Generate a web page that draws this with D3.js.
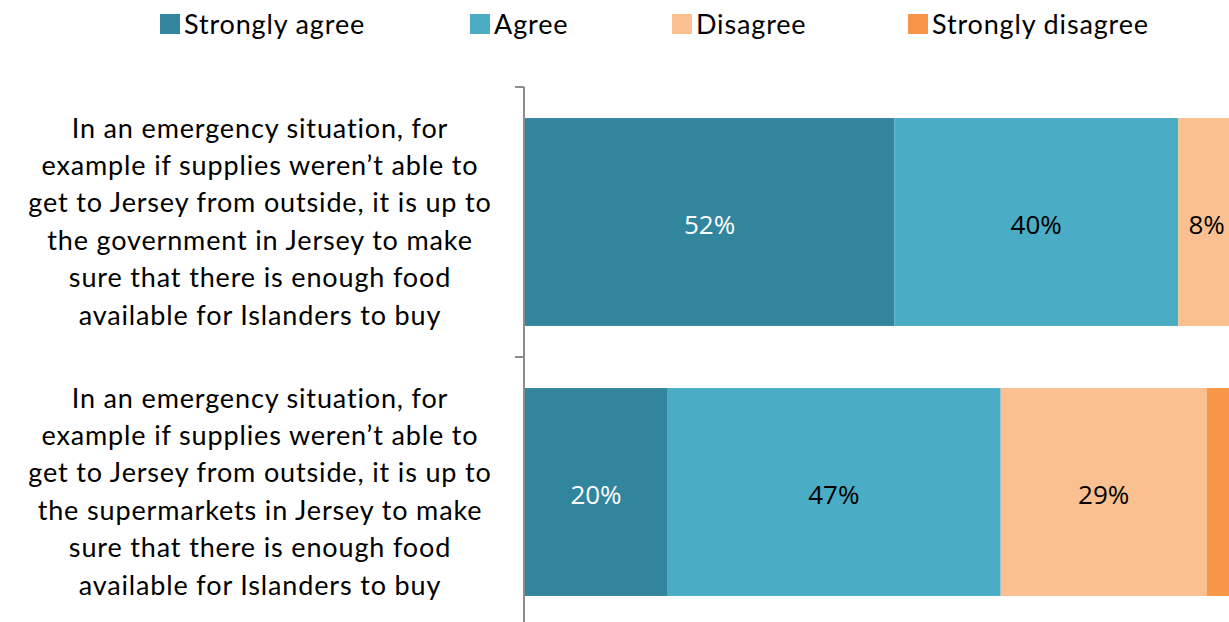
<!DOCTYPE html>
<html>
<head>
<meta charset="utf-8">
<script src="https://cdn.jsdelivr.net/npm/d3@7"></script>
<style>
  html, body { margin: 0; padding: 0; background: #fff; overflow: hidden; }
  svg { display: block; }
</style>
</head>
<body>
<svg id="chart" width="1229" height="622"></svg>
<script>
// Survey statements, each split into the lines shown beside its bar
const categories = [
  ["In an emergency situation, for",
   "example if supplies weren\u2019t able to",
   "get to Jersey from outside, it is up to",
   "the government in Jersey to make",
   "sure that there is enough food",
   "available for Islanders to buy"],
  ["In an emergency situation, for",
   "example if supplies weren\u2019t able to",
   "get to Jersey from outside, it is up to",
   "the supermarkets in Jersey to make",
   "sure that there is enough food",
   "available for Islanders to buy"]
];
const seriesNames = ["Strongly agree", "Agree", "Disagree", "Strongly disagree"];
const stronglyAgree    = [52, 20];
const agree            = [40, 47];
const disagree         = [8, 29];
const stronglyDisagree = [0, 4];

const colors = ["#31859C", "#4BACC6", "#FAC090", "#F79646"];
const labelColors = ["#ffffff", "#000000", "#000000", "#000000"];

const svg = d3.select("#chart");
const labelFont = "Lato, 'Open Sans', sans-serif";
const valueFont = "'Open Sans', sans-serif";

const rows = categories.map((lines, i) => ({
  key: "c" + i,
  lines,
  "Strongly agree": stronglyAgree[i],
  "Agree": agree[i],
  "Disagree": disagree[i],
  "Strongly disagree": stronglyDisagree[i]
}));

const x = d3.scaleLinear().domain([0, 100]).range([525, 1235]);
const y = d3.scaleBand()
  .domain(rows.map(d => d.key))
  .range([87, 627])
  .paddingInner(0.23)
  .paddingOuter(0.115);

const stack = d3.stack().keys(seriesNames)(rows);

// Stacked bars
const layers = svg.append("g").selectAll("g")
  .data(stack)
  .join("g")
  .attr("fill", (d, i) => colors[i]);

layers.selectAll("rect")
  .data(d => d)
  .join("rect")
  .attr("x", d => x(d[0]))
  .attr("y", d => y(d.data.key))
  .attr("width", d => x(d[1]) - x(d[0]))
  .attr("height", y.bandwidth());

// Percentage labels inside each segment
stack.forEach((layer, si) => {
  svg.append("g").selectAll("text")
    .data(layer.filter(d => d[1] - d[0] >= 1 && si < 3))
    .join("text")
    .attr("x", d => (x(d[0]) + x(d[1])) / 2)
    .attr("y", d => y(d.data.key) + y.bandwidth() / 2 + 12)
    .attr("text-anchor", "middle")
    .attr("font-family", valueFont)
    .attr("font-size", 26)
    .attr("fill", labelColors[si])
    .text(d => Math.round(d[1] - d[0]) + "%");
});

// Vertical category axis with ticks at band boundaries
const axisG = svg.append("g").attr("stroke", "#8c8c8c").attr("stroke-width", 2);
axisG.append("line")
  .attr("x1", 524).attr("x2", 524)
  .attr("y1", y.range()[0]).attr("y2", y.range()[1]);
rows.forEach(d => {
  const yy = y(d.key) - y.step() * y.paddingOuter();
  axisG.append("line")
    .attr("x1", 515).attr("x2", 524)
    .attr("y1", yy).attr("y2", yy);
});

// Category labels, centred left of the axis
rows.forEach(d => {
  const cy = y(d.key) + y.bandwidth() / 2;
  const lh = 37.4;
  const t = svg.append("text")
    .attr("text-anchor", "middle")
    .attr("font-family", labelFont)
    .attr("font-size", 27)
    .attr("letter-spacing", 0.85)
    .attr("fill", "#000");
  d.lines.forEach((line, j) => {
    t.append("tspan")
      .attr("x", 260)
      .attr("y", cy + (j - (d.lines.length - 1) / 2) * lh + 9)
      .text(line);
  });
});

// Legend
const legendX = [160, 470, 672, 908];
const legend = svg.append("g").selectAll("g")
  .data(seriesNames)
  .join("g")
  .attr("transform", (d, i) => `translate(${legendX[i]},0)`);
legend.append("rect")
  .attr("x", 0).attr("y", 14)
  .attr("width", 20).attr("height", 20)
  .attr("fill", (d, i) => colors[i]);
legend.append("text")
  .attr("x", 24).attr("y", 34)
  .attr("font-family", labelFont)
  .attr("font-size", 27)
  .attr("letter-spacing", 0.85)
  .attr("fill", "#000")
  .text(d => d);
</script>
</body>
</html>
